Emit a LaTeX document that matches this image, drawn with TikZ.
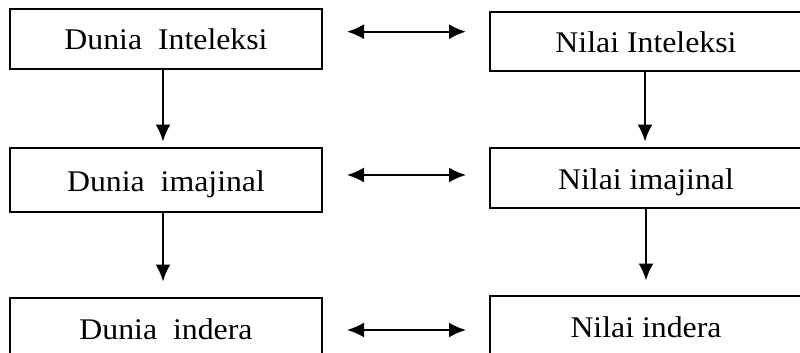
\documentclass[tikz,border=0pt]{standalone}
\usepackage{fontspec}
\setmainfont[FakeStretch=1.06]{Liberation Serif}
\usetikzlibrary{arrows.meta}
\begin{document}
\begin{tikzpicture}[x=1pt,y=-1pt,
  box/.style={draw,line width=2pt,minimum width=312pt,inner sep=0pt,
    text height=28pt,text depth=6pt,font=\fontsize{30}{33}\selectfont},
  tip/.style={Latex[length=17pt,width=15pt]},
  conn/.style={line width=2pt,-{Latex[length=17pt,width=15pt]}},
  dconn/.style={line width=2pt,{Latex[length=17pt,width=15pt]}-{Latex[length=17pt,width=15pt]}}]
\clip (0,0) rectangle (800,353);
\fill[white] (0,0) rectangle (800,353);
\node[box,minimum height=60pt] (L1) at (166,39) {Dunia~ Inteleksi};
\node[box,minimum height=64pt] (L2) at (166,180) {Dunia~ imajinal};
\node[box,minimum height=60pt] (L3) at (166,328) {Dunia~ indera};
\node[box,minimum height=59pt] (R1) at (646,41.5) {Nilai Inteleksi};
\node[box,minimum height=60pt] (R2) at (646,178) {Nilai imajinal};
\node[box,minimum height=60pt] (R3) at (646,326) {Nilai indera};
\coordinate (a1l) at (347,31.7);
\coordinate (a1r) at (466,31.7);
\coordinate (a2l) at (347,175);
\coordinate (a2r) at (466,175);
\coordinate (a3l) at (347,330);
\coordinate (a3r) at (466,330);
\draw[dconn] (a1l) -- (a1r);
\draw[dconn] (a2l) -- (a2r);
\draw[dconn] (a3l) -- (a3r);
\draw[conn,shorten >=5.5pt] (L1.south -| 163,0) -- (L2.north -| 163,0);
\draw[conn,shorten >=15.5pt] (L2.south -| 163,0) -- (L3.north -| 163,0);
\draw[conn,shorten >=5.5pt] (R1.south -| 645,0) -- (R2.north -| 645,0);
\draw[conn,shorten >=14.5pt] (R2.south -| 646,0) -- (R3.north -| 646,0);
\end{tikzpicture}
\end{document}
